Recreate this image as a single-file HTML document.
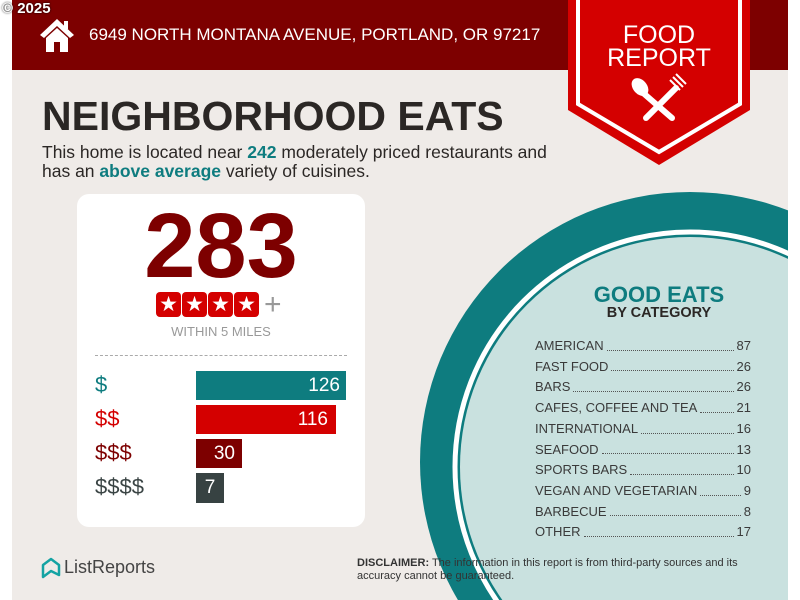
<!DOCTYPE html>
<html><head><style>
html,body{margin:0;width:800px;height:600px;overflow:hidden}
body{position:relative;background:#fff;font-family:"Liberation Sans",sans-serif}
.bg{position:absolute;left:12px;top:0;width:776px;height:600px;background:#efebe8;overflow:hidden}
.hdr{position:absolute;left:12px;top:0;width:776px;height:70px;background:#7d0000}
.abs{position:absolute}
.st{width:25px;height:25px;background:#d40000;border-radius:4px;color:#fff;text-align:center;font-size:21px;line-height:25px}
</style></head><body>
<div class="bg">
<svg width="776" height="600" style="position:absolute;left:0;top:0">
<circle cx="678" cy="462" r="270" fill="#0e7c7f"/>
<circle cx="678" cy="467" r="235" fill="none" stroke="#fff" stroke-width="5"/>
<circle cx="678" cy="467" r="230" fill="#c9e1df"/>
</svg>
</div>
<div class="hdr"></div>
<div class="abs" style="left:2px;top:0;font-size:15px;font-weight:bold;color:#fff;text-shadow:0 0 2px #000">© 2025</div>
<svg class="abs" style="left:38px;top:17px" width="38" height="36" viewBox="0 0 38 36"><path d="M19 2 L36 18 L32 21 L19 9 L6 21 L2 18 Z" fill="#fff"/><rect x="26" y="4" width="4" height="8" fill="#fff"/><path d="M8 21 L19 11 L30 21 V35 H8Z" fill="#fff"/><rect x="16" y="25" width="6" height="10" fill="#7d0000"/></svg>
<div class="abs" style="left:89px;top:25px;font-size:17px;color:#fff">6949 NORTH MONTANA AVENUE, PORTLAND, OR 97217</div>
<svg class="abs" style="left:566px;top:0" width="186" height="166" viewBox="0 0 186 166">
<path d="M2 0 H184 V110 L93 165 L2 110 Z" fill="#d40000"/>
<path d="M12 0 V104 L93 152 L174 104 V0" fill="none" stroke="#fff" stroke-width="4"/>
<g stroke="#fff" stroke-width="6" stroke-linecap="round"><line x1="76" y1="92" x2="106" y2="118"/><line x1="110" y1="88" x2="80" y2="118"/></g>
<ellipse cx="74" cy="87" rx="7" ry="10" fill="#fff" transform="rotate(-40 74 87)"/>
<path d="M104 80 L114 90 M107 77 L117 87 M110 74 L120 84" stroke="#fff" stroke-width="2"/>
</svg>
<div class="abs" style="left:566px;top:24px;width:186px;text-align:center;color:#fff;font-size:25px;line-height:23px">FOOD<br>REPORT</div>
<div class="abs" style="left:42px;top:93px;font-size:41px;font-weight:bold;color:#2b2725">NEIGHBORHOOD EATS</div>
<div class="abs" style="left:42px;top:143px;font-size:17.5px;line-height:19px;color:#2b2725">This home is located near <b style="color:#0e7c7f">242</b> moderately priced restaurants and<br>has an <b style="color:#0e7c7f">above average</b> variety of cuisines.</div>
<div class="abs" style="left:77px;top:194px;width:288px;height:333px;background:#fff;border-radius:12px"></div>
<div class="abs" style="left:77px;top:194px;width:288px;text-align:center;font-size:92px;font-weight:bold;color:#7d0000;line-height:104px">283</div>
<div class="abs" style="left:156px;top:292px;display:flex;gap:1px">
<div class="st">★</div><div class="st">★</div><div class="st">★</div><div class="st">★</div>
<div style="color:#999;font-size:30px;line-height:25px;margin-left:4px">+</div></div>
<div class="abs" style="left:77px;top:324px;width:288px;text-align:center;font-size:13px;color:#999">WITHIN 5 MILES</div>
<div class="abs" style="left:95px;top:355px;width:252px;border-top:1px dashed #aaa"></div>
<div class="abs" style="left:95px;top:372px;font-size:22px;color:#0e7c7f">$</div>
<div class="abs" style="left:95px;top:406px;font-size:22px;color:#d40000">$$</div>
<div class="abs" style="left:95px;top:440px;font-size:22px;color:#7d0000">$$$</div>
<div class="abs" style="left:95px;top:474px;font-size:22px;color:#3a4444">$$$$</div>
<div class="abs" style="left:196px;top:371px;width:150px;height:29px;background:#0e7c7f;color:#fff;font-size:19px;line-height:29px;text-align:right;box-sizing:border-box;padding-right:6px">126</div>
<div class="abs" style="left:196px;top:405px;width:140px;height:29px;background:#d40000;color:#fff;font-size:19px;line-height:29px;text-align:right;box-sizing:border-box;padding-right:8px">116</div>
<div class="abs" style="left:196px;top:439px;width:46px;height:29px;background:#7d0000;color:#fff;font-size:19px;line-height:29px;text-align:right;box-sizing:border-box;padding-right:7px">30</div>
<div class="abs" style="left:196px;top:473px;width:28px;height:30px;background:#374242;color:#fff;font-size:19px;line-height:30px;text-align:center">7</div>
<div class="abs" style="left:537px;top:282px;width:244px;text-align:center;font-size:22px;font-weight:bold;color:#0e7c7f">GOOD EATS</div>
<div class="abs" style="left:537px;top:305px;width:244px;text-align:center;font-size:14.5px;font-weight:bold;color:#2b2725">BY CATEGORY</div>
<div class="abs" style="left:535px;top:336px;width:216px;font-size:13px;color:#3a3a3a;line-height:20.7px">
<div style="display:flex"><span>AMERICAN</span><span style="flex:1;border-bottom:1px dotted #555;margin:0 3px 6px"></span><span>87</span></div>
<div style="display:flex"><span>FAST FOOD</span><span style="flex:1;border-bottom:1px dotted #555;margin:0 3px 6px"></span><span>26</span></div>
<div style="display:flex"><span>BARS</span><span style="flex:1;border-bottom:1px dotted #555;margin:0 3px 6px"></span><span>26</span></div>
<div style="display:flex"><span>CAFES, COFFEE AND TEA</span><span style="flex:1;border-bottom:1px dotted #555;margin:0 3px 6px"></span><span>21</span></div>
<div style="display:flex"><span>INTERNATIONAL</span><span style="flex:1;border-bottom:1px dotted #555;margin:0 3px 6px"></span><span>16</span></div>
<div style="display:flex"><span>SEAFOOD</span><span style="flex:1;border-bottom:1px dotted #555;margin:0 3px 6px"></span><span>13</span></div>
<div style="display:flex"><span>SPORTS BARS</span><span style="flex:1;border-bottom:1px dotted #555;margin:0 3px 6px"></span><span>10</span></div>
<div style="display:flex"><span>VEGAN AND VEGETARIAN</span><span style="flex:1;border-bottom:1px dotted #555;margin:0 3px 6px"></span><span>9</span></div>
<div style="display:flex"><span>BARBECUE</span><span style="flex:1;border-bottom:1px dotted #555;margin:0 3px 6px"></span><span>8</span></div>
<div style="display:flex"><span>OTHER</span><span style="flex:1;border-bottom:1px dotted #555;margin:0 3px 6px"></span><span>17</span></div>
</div>
<svg class="abs" style="left:41px;top:557px" width="20" height="22" viewBox="0 0 20 22"><path d="M10 2 L18 8 V18 L10 14 L2 20 V8 Z" fill="none" stroke="#14a3a3" stroke-width="2.5" stroke-linejoin="round"/></svg>
<div class="abs" style="left:64px;top:557px;font-size:18px;color:#444">ListReports</div>
<div class="abs" style="left:357px;top:557px;font-size:11px;line-height:13px;color:#333"><b>DISCLAIMER:</b> The information in this report is from third-party sources and its<br>accuracy cannot be guaranteed.</div>
</body></html>
